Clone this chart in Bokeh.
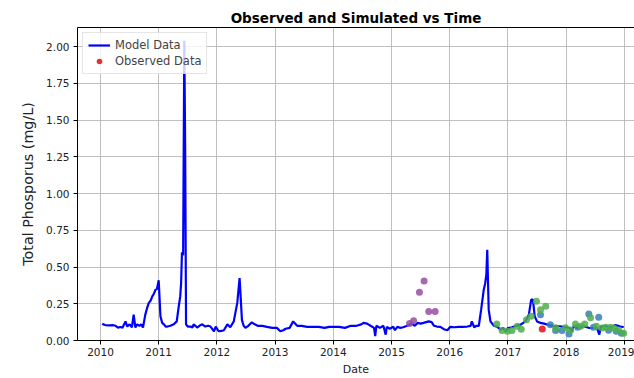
from bokeh.plotting import figure
from bokeh.models import Range1d, FixedTicker, LinearAxis, Legend, LegendItem, CustomJSTickFormatter
from bokeh.embed import file_html
from bokeh.resources import INLINE

# Model series (decimal year, mg/L)
model_t = [2010.03, 2010.08, 2010.15, 2010.22, 2010.26, 2010.30, 2010.34, 2010.38, 2010.43, 2010.46,
           2010.50, 2010.54, 2010.57, 2010.60, 2010.63, 2010.67, 2010.70, 2010.73, 2010.77, 2010.80,
           2010.83, 2010.86, 2010.89, 2010.92, 2010.945, 2010.97, 2011.00, 2011.03, 2011.06, 2011.09,
           2011.12, 2011.15, 2011.20, 2011.26, 2011.31, 2011.345, 2011.37, 2011.385, 2011.40, 2011.42,
           2011.44, 2011.455, 2011.47, 2011.50, 2011.55, 2011.58, 2011.60, 2011.63, 2011.66, 2011.70,
           2011.75, 2011.80, 2011.85, 2011.89, 2011.95, 2011.98, 2012.03, 2012.08, 2012.12, 2012.18,
           2012.23, 2012.29, 2012.35, 2012.39, 2012.43, 2012.46, 2012.49, 2012.54, 2012.60, 2012.65,
           2012.70, 2012.78, 2012.86, 2012.95, 2013.03, 2013.09, 2013.14, 2013.18, 2013.25, 2013.31,
           2013.38, 2013.46, 2013.55, 2013.65, 2013.75, 2013.85, 2013.93, 2014.00, 2014.10, 2014.20,
           2014.30, 2014.40, 2014.48, 2014.52, 2014.58, 2014.64, 2014.70, 2014.72, 2014.74, 2014.80,
           2014.86, 2014.90, 2014.92, 2014.97, 2015.03, 2015.06, 2015.10, 2015.15, 2015.20, 2015.27,
           2015.35, 2015.40, 2015.45, 2015.50, 2015.55, 2015.64, 2015.69, 2015.73, 2015.78, 2015.84,
           2015.90, 2015.96, 2016.01, 2016.08, 2016.15, 2016.22, 2016.30, 2016.36, 2016.38, 2016.42,
           2016.46, 2016.50, 2016.54, 2016.585, 2016.61, 2016.63, 2016.645, 2016.67, 2016.70, 2016.76,
           2016.82, 2016.87, 2016.92, 2016.96, 2017.00, 2017.07, 2017.12, 2017.22, 2017.30, 2017.36,
           2017.40, 2017.43, 2017.46, 2017.50, 2017.56, 2017.62, 2017.70, 2017.79, 2017.90, 2017.99,
           2018.07, 2018.10, 2018.13, 2018.20, 2018.30, 2018.40, 2018.53, 2018.57, 2018.60, 2018.68,
           2018.75, 2018.85, 2018.92, 2018.99]
model_v = [0.113, 0.105, 0.103, 0.104, 0.100, 0.088, 0.092, 0.088, 0.130, 0.095,
           0.110, 0.090, 0.176, 0.088, 0.110, 0.100, 0.110, 0.088, 0.176, 0.220,
           0.256, 0.270, 0.300, 0.320, 0.346, 0.350, 0.410, 0.165, 0.120, 0.110,
           0.095, 0.095, 0.100, 0.110, 0.130, 0.233, 0.300, 0.390, 0.600, 0.580,
           2.040, 1.300, 0.110, 0.095, 0.095, 0.088, 0.110, 0.100, 0.088, 0.100,
           0.110, 0.095, 0.100, 0.095, 0.063, 0.095, 0.063, 0.065, 0.070, 0.110,
           0.090, 0.130, 0.256, 0.425, 0.140, 0.100, 0.086, 0.100, 0.124, 0.110,
           0.100, 0.100, 0.093, 0.086, 0.086, 0.063, 0.070, 0.080, 0.086, 0.130,
           0.100, 0.100, 0.093, 0.093, 0.093, 0.086, 0.093, 0.093, 0.093, 0.086,
           0.100, 0.100, 0.110, 0.120, 0.115, 0.100, 0.086, 0.030, 0.100, 0.086,
           0.100, 0.040, 0.093, 0.080, 0.093, 0.070, 0.093, 0.086, 0.090, 0.100,
           0.115, 0.100, 0.120, 0.115, 0.120, 0.130, 0.125, 0.100, 0.095, 0.093,
           0.077, 0.070, 0.093, 0.090, 0.093, 0.093, 0.095, 0.100, 0.130, 0.090,
           0.100, 0.100, 0.210, 0.346, 0.390, 0.450, 0.617, 0.210, 0.130, 0.100,
           0.093, 0.075, 0.085, 0.063, 0.085, 0.090, 0.097, 0.108, 0.130, 0.176,
           0.278, 0.278, 0.165, 0.130, 0.120, 0.115, 0.105, 0.097, 0.097, 0.090,
           0.085, 0.063, 0.097, 0.085, 0.097, 0.085, 0.085, 0.040, 0.097, 0.097,
           0.090, 0.105, 0.097, 0.090]

# Observed data by station
obs_red_t = [2017.59]
obs_red_v = [0.079]
obs_purple_t = [2015.31, 2015.38, 2015.48, 2015.56, 2015.64, 2015.75]
obs_purple_v = [0.115, 0.135, 0.328, 0.405, 0.197, 0.197]
obs_blue_t = [2017.56, 2017.73, 2017.82, 2017.93, 2018.05, 2018.20, 2018.39, 2018.47, 2018.56, 2018.73,
              2018.86, 2018.95]
obs_blue_v = [0.176, 0.108, 0.068, 0.068, 0.045, 0.090, 0.180, 0.090, 0.158, 0.070,
              0.063, 0.050]
obs_green_t = [2016.81, 2016.90, 2016.99, 2017.07, 2017.16, 2017.23, 2017.32, 2017.40, 2017.49, 2017.56,
               2017.65, 2017.82, 2017.99, 2018.08, 2018.16, 2018.25, 2018.32, 2018.42, 2018.52, 2018.62,
               2018.68, 2018.76, 2018.82, 2018.90, 2018.99]
obs_green_v = [0.113, 0.068, 0.063, 0.068, 0.097, 0.077, 0.142, 0.165, 0.267, 0.210,
               0.233, 0.086, 0.086, 0.072, 0.113, 0.097, 0.113, 0.154, 0.097, 0.085,
               0.090, 0.090, 0.085, 0.072, 0.050]

year_ticks = [2010, 2011, 2012, 2013, 2014, 2015, 2016, 2017, 2018, 2019]
y_ticks = [0.0, 0.25, 0.5, 0.75, 1.0, 1.25, 1.5, 1.75, 2.0]

FONT = "DejaVu Sans"

p = figure(width=634, height=378, output_backend="svg", toolbar_location=None,
           x_range=Range1d(2009.605, 2019.175), y_range=Range1d(0, 2.13),
           min_border_left=77, min_border_right=0, min_border_top=27, min_border_bottom=30)
p.title.text = "Observed and Simulated vs Time"
p.title.text_font = FONT
p.title.text_font_size = "13.5px"
p.title.text_font_style = "bold"
p.title.text_color = "black"
p.title.align = "center"
p.title.offset = 0
p.title.standoff = 4

p.outline_line_color = None
p.background_fill_color = "white"

line = p.line(model_t, model_v, line_color="#0000ff", line_width=2.2)
red = p.scatter(obs_red_t, obs_red_v, size=7, fill_color="#e41a1c", line_color=None, fill_alpha=0.9)
p.scatter(obs_purple_t, obs_purple_v, size=7, fill_color="#984ea3", line_color=None, fill_alpha=0.85)
p.scatter(obs_blue_t, obs_blue_v, size=7, fill_color="#377eb8", line_color=None, fill_alpha=0.85)
p.scatter(obs_green_t, obs_green_v, size=7, fill_color="#4daf4a", line_color=None, fill_alpha=0.85)

for ax in (p.xaxis[0], p.yaxis[0]):
    ax.axis_line_color = "black"
    ax.axis_line_width = 1
    ax.major_tick_in = 0
    ax.major_tick_out = 4
    ax.major_tick_line_color = "black"
    ax.minor_tick_line_color = None
    ax.major_label_text_font = FONT
    ax.major_label_text_font_size = "10.5px"
    ax.major_label_text_color = "#222222"
    ax.axis_label_text_font = FONT
    ax.axis_label_text_font_style = "normal"
    ax.axis_label_text_color = "#222222"

p.xaxis.ticker = FixedTicker(ticks=year_ticks)
p.xaxis.axis_label = "Date"
p.xaxis.axis_label_text_font_size = "11px"
p.xaxis.axis_label_standoff = 4
p.xaxis.major_label_standoff = 3

p.yaxis.ticker = FixedTicker(ticks=y_ticks)
p.yaxis.formatter = CustomJSTickFormatter(code="return tick.toFixed(2);")
p.yaxis.axis_label = "Total Phosporus (mg/L)"
p.yaxis.axis_label_text_font_size = "14.3px"
p.yaxis.axis_label_standoff = 7
p.yaxis.major_label_standoff = 4

top_axis = LinearAxis(major_tick_line_color=None, minor_tick_line_color=None,
                      major_label_text_font_size="0px", axis_line_color="black",
                      ticker=FixedTicker(ticks=[]))
p.add_layout(top_axis, "above")

p.xgrid.grid_line_color = "#b0b0b0"
p.ygrid.grid_line_color = "#b0b0b0"
p.xgrid.grid_line_alpha = 0.8
p.ygrid.grid_line_alpha = 0.8

legend = Legend(items=[LegendItem(label="Model Data", renderers=[line]),
                       LegendItem(label="Observed Data", renderers=[red])],
                location="top_left")
legend.margin = 5
legend.padding = 5
legend.spacing = 2
legend.label_text_font = FONT
legend.label_text_font_size = "11.5px"
legend.label_height = 14
legend.glyph_height = 14
legend.glyph_width = 22
legend.border_line_color = "#cccccc"
legend.background_fill_alpha = 0.8
p.add_layout(legend)

open("out.html", "w").write(file_html(p, INLINE))
